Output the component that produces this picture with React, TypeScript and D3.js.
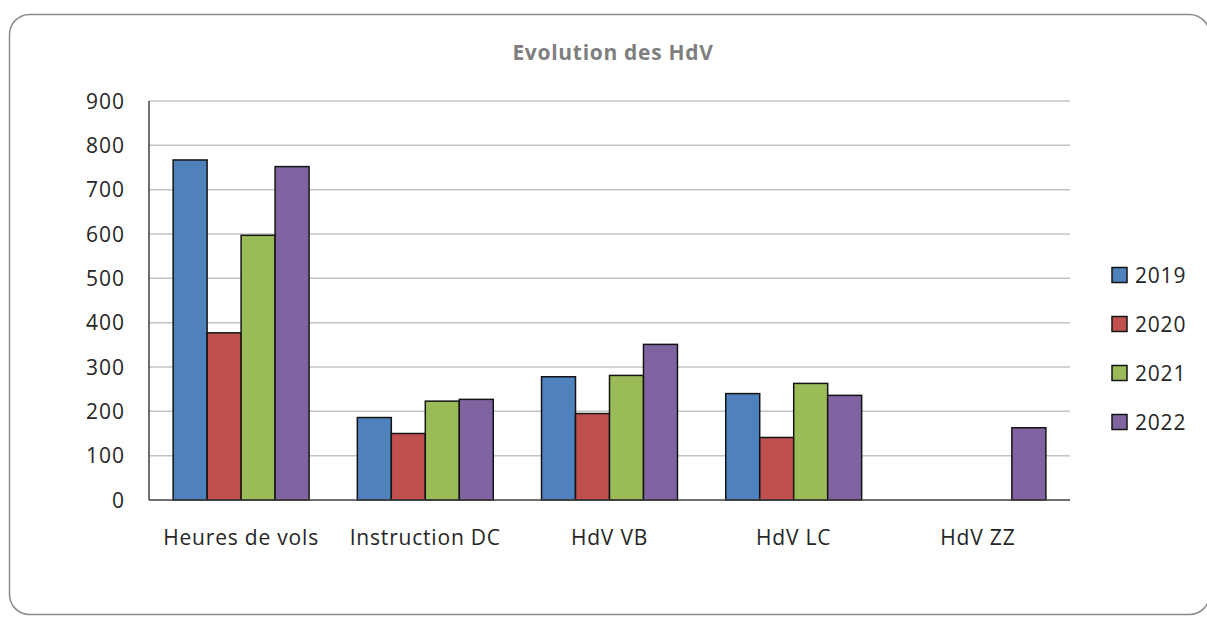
import React from "react";
import * as d3 from "d3";

const categories = ["Heures de vols", "Instruction DC", "HdV VB", "HdV LC", "HdV ZZ"];
const years = ["2019", "2020", "2021", "2022"];
const values2019 = [767, 186, 278, 240, null];
const values2020 = [377, 150, 195, 141, null];
const values2021 = [597, 223, 281, 263, null];
const values2022 = [752, 227, 351, 236, 163];
const yTicks = [0, 100, 200, 300, 400, 500, 600, 700, 800, 900];
const colors = ["#4f81bd", "#c0504d", "#9bbb59", "#8064a2"];

const series = [values2019, values2020, values2021, values2022];

const W = 1207;
const H = 617;
const plot = { left: 149, right: 1070, top: 101, bottom: 500 };
const font = "'Open Sans', 'Segoe UI', sans-serif";

export default function App() {
  const x0 = d3
    .scaleBand<string>()
    .domain(categories)
    .range([plot.left, plot.right])
    .paddingInner(0.262)
    .paddingOuter(0.131);
  const x1 = d3.scaleBand<string>().domain(years).range([0, x0.bandwidth()]);
  const y = d3.scaleLinear().domain([0, 900]).range([plot.bottom, plot.top]);

  return (
    <svg
      width={W}
      height={H}
      style={{ position: "absolute", left: 0, top: 0, background: "#fff" }}
    >
      <rect x={9.5} y={14.5} width={1200} height={600} rx={20} fill="#fff" stroke="#8c8c8c" strokeWidth={1.5} />

      <text
        x={613}
        y={60}
        textAnchor="middle"
        fontFamily={font}
        fontWeight="bold"
        fontSize={21}
        letterSpacing={0.7}
        fill="#7f7f7f"
      >
        Evolution des HdV
      </text>

      {/* gridlines */}
      {yTicks.filter((t) => t > 0).map((t) => (
        <line key={t} x1={plot.left} x2={plot.right} y1={y(t)} y2={y(t)} stroke="#c4c4c4" strokeWidth={1.5} />
      ))}

      {/* y labels */}
      {yTicks.map((t) => (
        <text
          key={t}
          x={125}
          y={y(t)}
          dy="0.36em"
          textAnchor="end"
          fontFamily={font}
          fontSize={21}
          letterSpacing={1}
          fill="#262626"
        >
          {t}
        </text>
      ))}

      {/* bars */}
      {categories.map((c, i) => (
        <g key={c} transform={`translate(${x0(c)},0)`}>
          {series.map((s, j) => {
            const v = s[i];
            if (v == null) return null;
            return (
              <rect
                key={j}
                x={x1(years[j])}
                y={y(v)}
                width={x1.bandwidth()}
                height={y(0) - y(v)}
                fill={colors[j]}
                stroke="#141414"
                strokeWidth={1.5}
              />
            );
          })}
        </g>
      ))}

      {/* axes */}
      <line x1={plot.left} x2={plot.left} y1={plot.top} y2={plot.bottom} stroke="#404040" strokeWidth={1.5} />
      <line x1={plot.left} x2={plot.right} y1={plot.bottom} y2={plot.bottom} stroke="#404040" strokeWidth={1.5} />

      {/* category labels */}
      {categories.map((c) => (
        <text
          key={c}
          x={(x0(c) ?? 0) + x0.bandwidth() / 2}
          y={537}
          dy="0.36em"
          textAnchor="middle"
          fontFamily={font}
          fontSize={21}
          letterSpacing={0.8}
          fill="#262626"
        >
          {c}
        </text>
      ))}

      {/* legend */}
      {years.map((yr, j) => {
        const cy = 275 + j * 49;
        return (
          <g key={yr}>
            <rect x={1112} y={cy - 7.5} width={15} height={15} fill={colors[j]} stroke="#141414" strokeWidth={1.5} />
            <text x={1135} y={cy} dy="0.36em" fontFamily={font} fontSize={21} letterSpacing={0.8} fill="#262626">
              {yr}
            </text>
          </g>
        );
      })}
    </svg>
  );
}
